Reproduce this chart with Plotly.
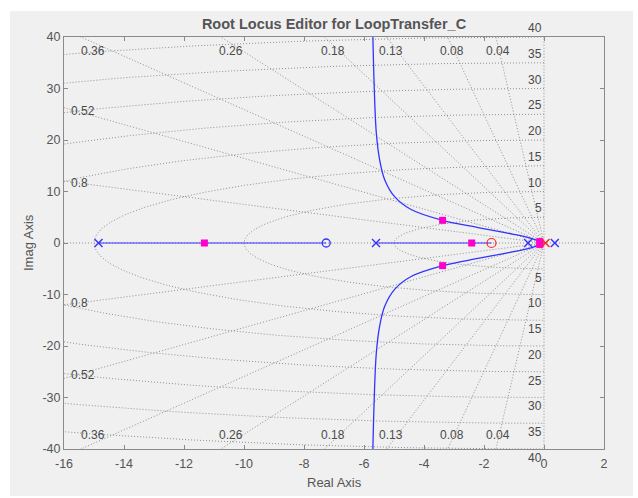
import numpy as np
import plotly.graph_objects as go

# ---- open-loop singularities --------------------------------------------
plant_poles = [-14.85, -5.6, -0.53, 0.36]     # plant poles (real)
plant_zeros = [-7.26]                          # plant zeros (real)
comp_poles = [0.05]                            # compensator C poles
comp_zeros = [-1.75]                           # compensator C zeros

# ---- closed-loop poles at the current gain ------------------------------
cl_re = [-11.32, -2.41, -3.38, -3.38, -0.14, -0.14]
cl_im = [0.0, 0.0, 4.4, -4.4, 0.28, -0.28]

# ---- locus branches -------------------------------------------------------
# real-axis segments (start -> end)
seg_start = [-14.85, -5.6]
seg_end = [-7.26, -1.75]
# upper complex branch; the lower branch is its complex conjugate
branch_re = [-0.08, -0.25, -0.6, -1.3, -2.2, -3.38, -4.43, -4.98, -5.31, -5.48, -5.59, -5.67, -5.72]
branch_im = [0.0, 0.55, 1.2, 2.0, 3.0, 4.4, 6.5, 9.0, 12.3, 16.2, 21.4, 32.3, 45.0]

# ---- s-plane grid ---------------------------------------------------------
zeta_vals = [0.8, 0.52, 0.36, 0.26, 0.18, 0.13, 0.08, 0.04]
wn_vals = [5, 10, 15, 20, 25, 30, 35, 40]
zeta_top_labels = ["0.36", "0.26", "0.18", "0.13", "0.08", "0.04"]
zeta_side_labels = ["0.8", "0.52"]

x_ticks = list(range(-16, 3, 2))
y_ticks = list(range(-40, 41, 10))

X_RANGE = [-16, 2]
Y_RANGE = [-40, 40]

GRID = "#8f8f8f"
BLUE = "#3333ff"
RED = "#ff2222"
MAGENTA = "#ff00cc"
TXT = "#555555"
LBL = "#4a4a4a"
FONT = "Liberation Sans, Arial, Helvetica, sans-serif"

fig = go.Figure()

grid_line = dict(color=GRID, width=1, dash="1px,2px")

# damping-ratio rays (upper and lower half plane)
for z in zeta_vals:
    R = 100.0
    wd = np.sqrt(1 - z * z)
    fig.add_trace(go.Scatter(x=[0, -R * z, None, 0, -R * z], y=[0, R * wd, None, 0, -R * wd],
                             mode="lines", line=grid_line, hoverinfo="skip", showlegend=False))
# zeta = 0 (imag axis) and zeta = 1 (real axis)
fig.add_trace(go.Scatter(x=[0, 0], y=[-45, 45], mode="lines", line=grid_line,
                         hoverinfo="skip", showlegend=False))
fig.add_trace(go.Scatter(x=[-20, 5], y=[0, 0], mode="lines", line=grid_line,
                         hoverinfo="skip", showlegend=False))
# natural-frequency semicircles
th = np.linspace(np.pi / 2, 3 * np.pi / 2, 241)
for wn in wn_vals:
    fig.add_trace(go.Scatter(x=wn * np.cos(th), y=wn * np.sin(th), mode="lines", line=grid_line,
                             hoverinfo="skip", showlegend=False))

# real-axis locus segments
sx, sy = [], []
for a, b in zip(seg_start, seg_end):
    sx += [a, b, None]
    sy += [0, 0, None]
fig.add_trace(go.Scatter(x=sx, y=sy, mode="lines", line=dict(color=BLUE, width=1.2),
                         hoverinfo="skip", showlegend=False))

# complex branches
fig.add_trace(go.Scatter(x=branch_re, y=branch_im, mode="lines",
                         line=dict(color=BLUE, width=1.3, shape="spline", smoothing=1),
                         hoverinfo="skip", showlegend=False))
fig.add_trace(go.Scatter(x=branch_re, y=[-v for v in branch_im], mode="lines",
                         line=dict(color=BLUE, width=1.3, shape="spline", smoothing=1),
                         hoverinfo="skip", showlegend=False))

# closed-loop poles
fig.add_trace(go.Scatter(x=cl_re, y=cl_im, mode="markers",
                         marker=dict(symbol="square", size=7, color=MAGENTA),
                         name="Closed-loop poles", showlegend=False))

# open-loop poles / zeros
fig.add_trace(go.Scatter(x=plant_zeros, y=[0] * len(plant_zeros), mode="markers",
                         marker=dict(symbol="circle-open", size=8, color=BLUE, line=dict(width=1.3)),
                         showlegend=False))
fig.add_trace(go.Scatter(x=plant_poles, y=[0] * len(plant_poles), mode="markers",
                         marker=dict(symbol="x-thin-open", size=8, color=BLUE, line=dict(width=1.4, color=BLUE)),
                         showlegend=False))
fig.add_trace(go.Scatter(x=comp_zeros, y=[0] * len(comp_zeros), mode="markers",
                         marker=dict(symbol="circle-open", size=9, color=RED, line=dict(width=1.2)),
                         showlegend=False))
fig.add_trace(go.Scatter(x=comp_poles, y=[0] * len(comp_poles), mode="markers",
                         marker=dict(symbol="x-thin-open", size=8, color=RED, line=dict(width=1.4, color=RED)),
                         showlegend=False))

annotations = []
lab_font = dict(family=FONT, size=12, color=LBL)

# damping labels along the top / bottom edges
top_x = [-15.02, -10.44, -7.05, -5.09, -3.07, -1.54]
for lbl, x in zip(zeta_top_labels, top_x):
    for s in (1, -1):
        annotations.append(dict(x=x, y=s * 37.3, text=lbl, showarrow=False, font=lab_font,
                                xanchor="center", yanchor="middle", borderpad=0))
# damping labels along the left edge
side_y = [11.6, 25.6]
for lbl, y in zip(zeta_side_labels, side_y):
    for s in (1, -1):
        annotations.append(dict(x=-15.8, y=s * y, text=lbl, showarrow=False, font=lab_font,
                                xanchor="left", yanchor="middle", borderpad=0))
# natural-frequency labels along the imaginary axis (shifted just past each circle)
for wn in wn_vals:
    for s in (1, -1):
        annotations.append(dict(x=0, y=s * wn, xshift=-1.5, yshift=s * 8.8, text=str(wn),
                                showarrow=False, font=lab_font, xanchor="right", yanchor="middle",
                                borderpad=0))

# axis titles
annotations.append(dict(x=0.5, y=-33 / 412, xref="paper", yref="paper", text="Real Axis",
                        showarrow=False, font=dict(family=FONT, size=13, color=TXT),
                        xanchor="center", yanchor="middle"))
annotations.append(dict(x=-36 / 540, y=0.5, xref="paper", yref="paper", text="Imag Axis",
                        showarrow=False, textangle=-90, font=dict(family=FONT, size=13, color=TXT),
                        xanchor="center", yanchor="middle"))

axis_common = dict(showgrid=False, zeroline=False, showline=True, linecolor="#8a8a8a", linewidth=1,
                   mirror="ticks", ticks="inside", ticklen=4, tickcolor="#8a8a8a",
                   tickfont=dict(family=FONT, size=12.5, color=TXT))

fig.update_layout(
    width=638, height=498,
    margin=dict(l=64, r=34, t=37, b=49),
    paper_bgcolor="white",
    plot_bgcolor="white",
    title=dict(text="Root Locus Editor for LoopTransfer_C", x=0.5 + (334 - 319) / 638, xanchor="center",
               y=1 - 24 / 498, yanchor="middle",
               font=dict(family=FONT, size=14.5, color=TXT, weight="bold")),
    xaxis=dict(range=X_RANGE, tickvals=x_ticks, ticktext=[str(v) for v in x_ticks],
               ticklabelstandoff=3, **axis_common),
    yaxis=dict(range=Y_RANGE, tickvals=y_ticks, ticktext=[str(v) for v in y_ticks], **axis_common),
    annotations=annotations,
    shapes=[dict(type="rect", xref="paper", yref="paper", x0=-54 / 540, x1=569 / 540,
                 y0=-47 / 412, y1=438 / 412, fillcolor="#f0f0f0", line=dict(width=0), layer="below")],
    showlegend=False,
)

fig.write_html("out.html")
